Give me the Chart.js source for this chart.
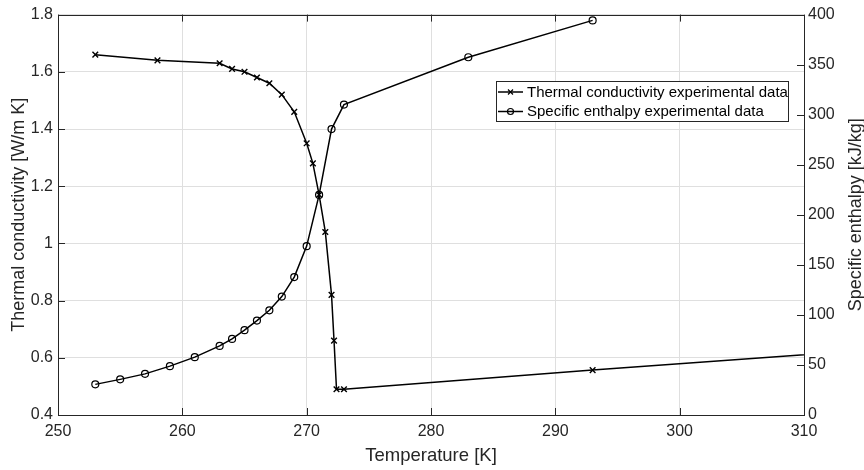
<!DOCTYPE html>
<html>
<head>
<meta charset="utf-8">
<script src="https://cdn.jsdelivr.net/npm/chart.js@4"></script>
<style>
  html, body { margin: 0; padding: 0; background: #fff; }
</style>
</head>
<body>
<canvas id="thermalChart" width="864" height="470"></canvas>
<script>
// thermal conductivity series (x markers)
const condTemps = [253, 258, 263, 264, 265, 266, 267, 268, 269, 270, 270.5, 271, 271.5, 272, 272.2, 272.4, 273, 293, 313];
const condValues = [1.66, 1.64, 1.63, 1.61, 1.60, 1.58, 1.56, 1.52, 1.46, 1.35, 1.28, 1.17, 1.04, 0.82, 0.66, 0.49, 0.49, 0.557, 0.62];

// specific enthalpy series (o markers)
const enthTemps = [253, 255, 257, 259, 261, 263, 264, 265, 266, 267, 268, 269, 270, 271, 272, 273, 283, 293];
const enthValues = [30.6, 35.6, 41.1, 48.8, 57.8, 69, 76, 84.7, 94.3, 104.6, 118.3, 137.8, 168.7, 219.9, 285.6, 310.1, 357.4, 394.2];

// tick labels
const tempTicks = [250, 260, 270, 280, 290, 300, 310];
const condTicks = [0.4, 0.6, 0.8, 1, 1.2, 1.4, 1.6, 1.8];
const enthTicks = [0, 50, 100, 150, 200, 250, 300, 350, 400];

const condLabel = "Thermal conductivity experimental data";
const enthLabel = "Specific enthalpy experimental data";
const enthAxisTitle = "Specific enthalpy [kJ/kg]";

const FONT = "'Liberation Sans', Arial, sans-serif";
const AXIS_COLOR = "#262626";
const GRID_COLOR = "#dfdfdf";

const toPoints = (xs, ys) => xs.map((x, i) => ({ x: x, y: ys[i] }));

// box round the plot, inward tick marks and the right axis title
const boxAndTicks = {
  id: "boxAndTicks",
  afterDraw(chart) {
    const { ctx, chartArea: a, scales } = chart;
    const len = 7;
    ctx.save();
    ctx.strokeStyle = AXIS_COLOR;
    ctx.lineWidth = 1;
    ctx.beginPath();
    scales.x.ticks.forEach(t => {
      const px = Math.round(scales.x.getPixelForValue(t.value)) + 0.5;
      ctx.moveTo(px, a.bottom);
      ctx.lineTo(px, a.bottom - len);
      ctx.moveTo(px, a.top);
      ctx.lineTo(px, a.top + len);
    });
    scales.y.ticks.forEach(t => {
      const py = Math.round(scales.y.getPixelForValue(t.value)) + 0.5;
      ctx.moveTo(a.left, py);
      ctx.lineTo(a.left + len, py);
    });
    scales.y2.ticks.forEach(t => {
      const py = Math.round(scales.y2.getPixelForValue(t.value)) + 0.5;
      ctx.moveTo(a.right, py);
      ctx.lineTo(a.right - len, py);
    });
    ctx.stroke();
    ctx.strokeRect(Math.round(a.left) + 0.5, Math.round(a.top) + 0.5,
      Math.round(a.right - a.left), Math.round(a.bottom - a.top));

    // right title reads bottom to top, like the left one
    ctx.fillStyle = AXIS_COLOR;
    ctx.font = "18px " + FONT;
    ctx.textAlign = "center";
    ctx.textBaseline = "middle";
    ctx.translate(856, (a.top + a.bottom) / 2);
    ctx.rotate(-Math.PI / 2);
    ctx.fillText(enthAxisTitle, 0, 0);
    ctx.restore();
  }
};

// legend box inside the plot, top right
const insideLegend = {
  id: "insideLegend",
  afterDraw(chart) {
    const { ctx, chartArea: a } = chart;
    const boxW = 292, boxH = 40;
    const bx = Math.round(a.right) - 16 - boxW;
    const by = Math.round(a.top) + 66;
    ctx.save();
    ctx.fillStyle = "#fff";
    ctx.fillRect(bx, by, boxW, boxH);
    ctx.strokeStyle = AXIS_COLOR;
    ctx.lineWidth = 1;
    ctx.strokeRect(bx + 0.5, by + 0.5, boxW, boxH);
    chart.data.datasets.forEach((ds, i) => {
      const cy = by + 11 + i * 19.5;
      const mx = bx + 14.5;
      ctx.strokeStyle = "#000";
      ctx.lineWidth = 1.5;
      ctx.beginPath();
      ctx.moveTo(bx + 2, cy);
      ctx.lineTo(bx + 27, cy);
      ctx.stroke();
      ctx.lineWidth = 1.2;
      ctx.beginPath();
      if (ds.pointStyle === "crossRot") {
        ctx.moveTo(mx - 2.5, cy - 2.5);
        ctx.lineTo(mx + 2.5, cy + 2.5);
        ctx.moveTo(mx - 2.5, cy + 2.5);
        ctx.lineTo(mx + 2.5, cy - 2.5);
      } else {
        ctx.arc(mx, cy, 3, 0, Math.PI * 2);
      }
      ctx.stroke();
      ctx.fillStyle = "#000";
      ctx.font = "15px " + FONT;
      ctx.textAlign = "left";
      ctx.textBaseline = "middle";
      ctx.fillText(ds.label, bx + 31, cy + 0.5);
    });
    ctx.restore();
  }
};

const ctx = document.getElementById("thermalChart");

const thermalChart = new Chart(ctx, {
  type: "line",
  data: {
    datasets: [
      {
        label: condLabel,
        data: toPoints(condTemps, condValues),
        yAxisID: "y",
        borderColor: "#000",
        borderWidth: 1.5,
        pointStyle: "crossRot",
        pointRadius: 4,
        pointBorderColor: "#000",
        pointBorderWidth: 1.4,
        pointBackgroundColor: "rgba(0,0,0,0)",
        tension: 0
      },
      {
        label: enthLabel,
        data: toPoints(enthTemps, enthValues),
        yAxisID: "y2",
        borderColor: "#000",
        borderWidth: 1.5,
        pointStyle: "circle",
        pointRadius: 3.5,
        pointBorderColor: "#000",
        pointBorderWidth: 1.2,
        pointBackgroundColor: "rgba(0,0,0,0)",
        tension: 0
      }
    ]
  },
  options: {
    responsive: false,
    animation: false,
    devicePixelRatio: 1,
    layout: {
      padding: { top: 14, left: 0, right: 0, bottom: 0 }
    },
    plugins: {
      legend: { display: false },
      tooltip: { enabled: false }
    },
    scales: {
      x: {
        type: "linear",
        min: 250,
        max: 310,
        afterBuildTicks: s => { s.ticks = tempTicks.map(v => ({ value: v })); },
        afterFit: s => { s.height = 55; },
        grid: { color: GRID_COLOR, drawTicks: false },
        border: { display: false },
        ticks: {
          color: AXIS_COLOR,
          font: { family: FONT, size: 16 },
          padding: 7,
          maxRotation: 0,
          callback: v => String(v)
        },
        title: {
          display: true,
          text: "Temperature [K]",
          color: AXIS_COLOR,
          font: { family: FONT, size: 18.5 },
          padding: { top: 0, bottom: 3 }
        }
      },
      y: {
        type: "linear",
        position: "left",
        min: 0.4,
        max: 1.8,
        afterBuildTicks: s => { s.ticks = condTicks.map(v => ({ value: v })); },
        afterFit: s => { s.width = 58; },
        grid: { color: GRID_COLOR, drawTicks: false },
        border: { display: false },
        ticks: {
          color: AXIS_COLOR,
          font: { family: FONT, size: 16 },
          padding: 5,
          callback: v => String(v)
        },
        title: {
          display: true,
          text: "Thermal conductivity [W/m K]",
          color: AXIS_COLOR,
          font: { family: FONT, size: 18 },
          padding: { top: 8, bottom: 0 }
        }
      },
      y2: {
        type: "linear",
        position: "right",
        min: 0,
        max: 400,
        afterBuildTicks: s => { s.ticks = enthTicks.map(v => ({ value: v })); },
        afterFit: s => { s.width = 60; },
        grid: { display: false, drawTicks: false },
        border: { display: false },
        ticks: {
          color: AXIS_COLOR,
          font: { family: FONT, size: 16 },
          padding: 4,
          callback: v => String(v)
        }
      }
    }
  },
  plugins: [boxAndTicks, insideLegend]
});
</script>
</body>
</html>
